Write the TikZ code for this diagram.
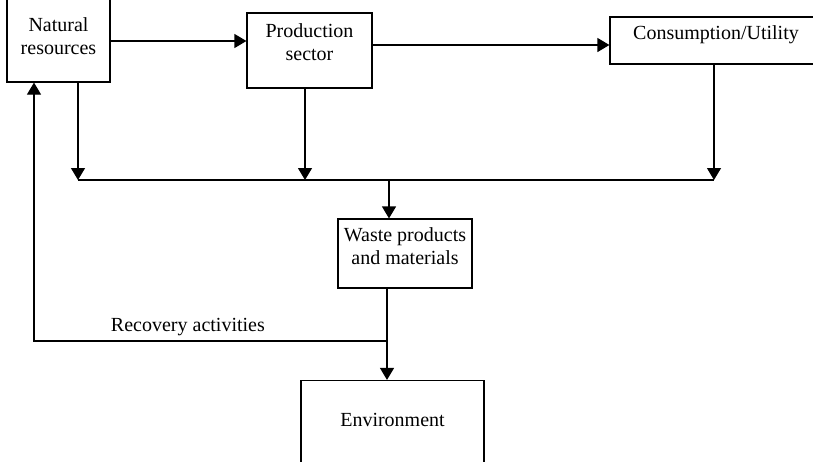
\documentclass[tikz,border=0pt]{standalone}
\usepackage{fontspec}
\setmainfont{Liberation Serif}
\usetikzlibrary{arrows.meta}

\begin{document}
\begin{tikzpicture}[x=1pt,y=-1pt,line width=1.2pt]
        %
        % `block' is used for the boxes.
        % `flow' is used for the arrows between them.
        \tikzstyle{block} = [draw,fill=white,align=center,inner sep=2pt,
                             font=\fontsize{20}{23}\selectfont]
        \tikzstyle{flow} = [-{Triangle[length=12pt,width=14pt]}]
        \useasboundingbox (0,0) rectangle (813,461);
        %
        % Top row
        \node[block,minimum width=103pt,minimum height=88pt] (nat) at (58.5,38) {Natural\\resources\\[-19pt]};
        \node[block,minimum width=125pt,minimum height=75pt] (prod) at (309.5,50.5) {Production\\sector\\[-7pt]};
        \node[block,minimum width=212pt,minimum height=47pt] (cons) at (716,40.5) {Consumption/Utility\\[-8pt]};
        %
        % Lower boxes
        \node[block,minimum width=134pt,minimum height=69pt] (waste) at (405,253.5) {Waste products\\and materials\\[-9pt]};
        \node[block,minimum width=183pt,minimum height=90pt] (env) at (392.5,425.5) {Environment\\[-12pt]};
        %
        % Collecting line
        \coordinate (busL) at (78,180);
        \coordinate (busP) at (305,180);
        \coordinate (busW) at (389,180);
        \coordinate (busR) at (714,180);
        \coordinate (junc) at (387,341);
        \coordinate (recL) at (34,341);
        %
        % Arrows along the top
        \draw[flow] ([yshift=-3pt]nat.east) -- ([yshift=-3pt]nat.east -| prod.west);
        \draw[flow] ([yshift=5.5pt]prod.east) -- ([yshift=5.5pt]prod.east -| cons.west);
        %
        % Arrows down to the collecting line
        \draw[flow] (nat.south -| busL) -- (busL);
        \draw[flow] (prod.south -| busP) -- (busP);
        \draw[flow] (cons.south -| busR) -- (busR);
        \draw (busL) -- (busR);
        \draw[flow] (busW) -- (busW |- waste.north);
        %
        % Waste to environment, and recovery
        \draw[flow] (waste.south -| junc) -- (junc |- env.north);
        \draw[flow] (junc) -- (recL)
        	node[pos=0.564,above=1pt,font=\fontsize{20}{23}\selectfont] (reclabel) {Recovery activities}
        	-- (recL |- nat.south);
        %
\end{tikzpicture}
\end{document}
